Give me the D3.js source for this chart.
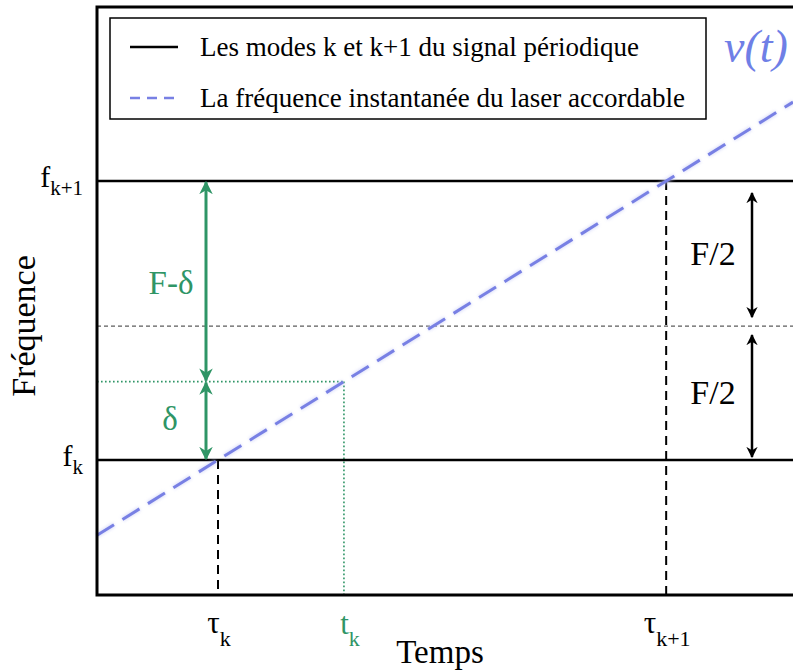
<!DOCTYPE html>
<html><head><meta charset="utf-8">
<script src="https://cdn.jsdelivr.net/npm/d3@7"></script>
<style>body{margin:0;background:#fff}svg{display:block}</style>
</head><body><svg id="c" width="793" height="672"></svg>
<script>
// ---- data (normalised units: F = 1, slope of laser = 1) ----
const timeDomain = [-0.27, 1.283];
const freqDomain = [-0.484, 1.624];
const modeFreqs = [0, 1];             // f_k, f_{k+1}
const modeLabels = [["f","k"],["f","k+1"]];
const midFreq = 0.48;                 // f_k + F/2 (as drawn)
const tauTimes = [0, 1];              // tau_k, tau_{k+1}
const tauLabels = [["τ","k"],["τ","k+1"]];
const tkTime = 0.281;                 // t_k
const deltaVal = 0.281;               // delta
const laserTimes = [-0.27, 1.283];
const laserFreqs = [-0.27, 1.283];
const legendItems = ["Les modes k et k+1 du signal périodique","La fréquence instantanée du laser accordable"];

const FONT = "'Liberation Serif','Times New Roman',Times,serif";
const svg = d3.select("#c").attr("font-family", FONT);
const x = d3.scaleLinear().domain(timeDomain).range([97, 793]);
const y = d3.scaleLinear().domain(freqDomain).range([595, 7]);
const green = "#2f9566", blue = "#7880e4";

// defs for arrow heads
const defs = svg.append("defs");
function marker(id, col){
  defs.append("marker").attr("id",id).attr("viewBox","0 0 10 10").attr("refX",9).attr("refY",5)
    .attr("markerWidth",4.5).attr("markerHeight",4.5).attr("orient","auto-start-reverse").attr("markerUnits","strokeWidth")
    .append("path").attr("d","M0,0 L10,5 L0,10 L3,5 Z").attr("fill",col);
}
marker("ag", green); marker("ab", "#000");
defs.append("filter").attr("id","glow").append("feGaussianBlur").attr("stdDeviation",1.5);

const x0 = x(timeDomain[0]), x1 = x(timeDomain[1]);

// mid dashed line
svg.append("line").attr("x1",x0).attr("x2",x1).attr("y1",y(midFreq)).attr("y2",y(midFreq))
  .attr("stroke","#333").attr("stroke-width",1).attr("stroke-dasharray","4,3");

// green dotted guides
svg.append("line").attr("x1",x0).attr("x2",x(tkTime)).attr("y1",y(deltaVal)).attr("y2",y(deltaVal))
  .attr("stroke",green).attr("stroke-width",1.6).attr("stroke-dasharray","1.6,2.4");
svg.append("line").attr("x1",x(tkTime)).attr("x2",x(tkTime)).attr("y1",y(deltaVal)).attr("y2",y(freqDomain[0]))
  .attr("stroke",green).attr("stroke-width",1.6).attr("stroke-dasharray","1.6,2.4");

// tau verticals
svg.selectAll(".tau").data(tauTimes).join("line")
  .attr("x1",d=>x(d)).attr("x2",d=>x(d)).attr("y1",(d,i)=>y(modeFreqs[i])).attr("y2",y(freqDomain[0]))
  .attr("stroke","#000").attr("stroke-width",2).attr("stroke-dasharray","9,6");

// mode lines
svg.selectAll(".mode").data(modeFreqs).join("line")
  .attr("x1",x0).attr("x2",x1).attr("y1",d=>y(d)).attr("y2",d=>y(d))
  .attr("stroke","#000").attr("stroke-width",2.5);

// laser line
const lineGen = d3.line().x(d=>x(d[0])).y(d=>y(d[1]));
const lpts = laserTimes.map((t,i)=>[t,laserFreqs[i]]);
svg.append("path").attr("d",lineGen(lpts)).attr("stroke","#c8ccf6").attr("stroke-width",5).attr("fill","none")
  .attr("stroke-dasharray","20,10").attr("filter","url(#glow)").attr("opacity",0.6);
svg.append("path").attr("d",lineGen(lpts)).attr("stroke",blue).attr("stroke-width",3).attr("fill","none")
  .attr("stroke-dasharray","20,10");

// frame (left, top, bottom)
svg.append("path").attr("d",`M${x1},${y(freqDomain[1])} H${x0} V${y(freqDomain[0])} H${x1}`)
  .attr("fill","none").attr("stroke","#000").attr("stroke-width",3);

// green arrows
const gx = 206;
svg.append("line").attr("x1",gx).attr("x2",gx).attr("y1",y(modeFreqs[1])+1).attr("y2",y(deltaVal)-1)
  .attr("stroke",green).attr("stroke-width",3).attr("marker-start","url(#ag)").attr("marker-end","url(#ag)");
svg.append("line").attr("x1",gx).attr("x2",gx).attr("y1",y(deltaVal)+1).attr("y2",y(modeFreqs[0])-1)
  .attr("stroke",green).attr("stroke-width",3).attr("marker-start","url(#ag)").attr("marker-end","url(#ag)");
svg.append("text").attr("x",171).attr("y",294).attr("text-anchor","middle").attr("fill",green)
  .attr("font-size",33).text("F-δ");
svg.append("text").attr("x",170).attr("y",430).attr("text-anchor","middle").attr("fill",green)
  .attr("font-size",33).text("δ");

// black arrows
const bx = 752;
svg.append("line").attr("x1",bx).attr("x2",bx).attr("y1",y(modeFreqs[1])+12).attr("y2",y(midFreq)-9)
  .attr("stroke","#000").attr("stroke-width",2.5).attr("marker-start","url(#ab)").attr("marker-end","url(#ab)");
svg.append("line").attr("x1",bx).attr("x2",bx).attr("y1",y(midFreq)+9).attr("y2",y(modeFreqs[0])-3)
  .attr("stroke","#000").attr("stroke-width",2.5).attr("marker-start","url(#ab)").attr("marker-end","url(#ab)");
svg.selectAll(".f2").data([ (modeFreqs[1]+midFreq)/2, (midFreq+modeFreqs[0])/2 ]).join("text")
  .attr("x",713).attr("y",d=>y(d)+11).attr("text-anchor","middle").attr("font-size",34).text("F/2");

// y tick labels
modeLabels.forEach((l,i)=>{
  const t = svg.append("text").attr("x",83).attr("y",y(modeFreqs[i])+6).attr("text-anchor","end").attr("font-size",30);
  t.append("tspan").text(l[0]);
  t.append("tspan").attr("dy",8).attr("font-size",21).text(l[1]);
});
svg.append("text").attr("transform",`translate(35,326) rotate(-90)`).attr("text-anchor","middle")
  .attr("font-size",34).text("Fréquence");

// x tick labels
tauLabels.forEach((l,i)=>{
  const t = svg.append("text").attr("x",x(tauTimes[i])+1).attr("y",633).attr("text-anchor","middle").attr("font-size",31);
  t.append("tspan").text(l[0]);
  t.append("tspan").attr("dy",13).attr("font-size",22).text(l[1]);
});
{
  const t = svg.append("text").attr("x",x(tkTime)+6).attr("y",634).attr("text-anchor","middle").attr("font-size",31).attr("fill",green);
  t.append("tspan").text("t");
  t.append("tspan").attr("dy",12).attr("font-size",22).text("k");
}
svg.append("text").attr("x",440).attr("y",663).attr("text-anchor","middle").attr("font-size",33).text("Temps");

// legend
svg.append("rect").attr("x",110).attr("y",18).attr("width",596).attr("height",101)
  .attr("fill","#fff").attr("stroke","#000").attr("stroke-width",1.5);
const ly = [47, 98];
svg.append("line").attr("x1",130).attr("x2",178).attr("y1",ly[0]).attr("y2",ly[0]).attr("stroke","#000").attr("stroke-width",2.5);
svg.append("line").attr("x1",130).attr("x2",180).attr("y1",ly[1]).attr("y2",ly[1]).attr("stroke",blue).attr("stroke-width",2.5).attr("stroke-dasharray","10,7");
svg.selectAll(".lg").data(legendItems).join("text").attr("x",200).attr("y",(d,i)=>ly[i]+9)
  .attr("font-size",27).text(d=>d);

// nu(t) label
svg.append("text").attr("x",756).attr("y",62).attr("text-anchor","middle").attr("font-size",46)
  .attr("font-style","italic").attr("fill","#6f7fe6").text("ν(t)");
</script></body></html>
